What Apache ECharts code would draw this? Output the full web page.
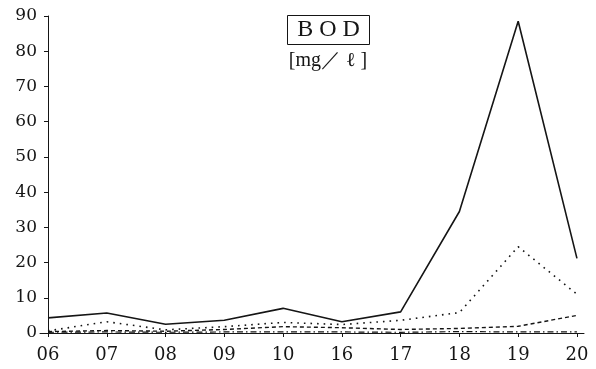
<!DOCTYPE html>
<html>
<head>
<meta charset="utf-8">
<script src="https://cdn.jsdelivr.net/npm/echarts@6/dist/echarts.min.js"></script>
<style>
  html, body { margin: 0; padding: 0; background: #fff; }
  #chart { width: 596px; height: 369px; }
</style>
</head>
<body>
<div id="chart"></div>
<script>
// Sampling days along the x axis
const days = ['06', '07', '08', '09', '10', '16', '17', '18', '19', '20'];
// BOD readings in mg/l, one array per sampling station
const stationA = [4.3, 5.7, 2.5, 3.6, 7.0, 3.2, 6.0, 34.5, 88.5, 21.2];
const stationB = [0.6, 3.2, 0.9, 1.8, 3.0, 2.4, 3.6, 5.8, 24.5, 11.0];
const stationC = [0.4, 0.7, 0.5, 1.0, 1.8, 1.5, 1.0, 1.3, 1.9, 5.0];
const stationD = [0.2, 0.3, 0.2, 0.3, 0.3, 0.3, 0.2, 0.4, 0.3, 0.3];
// Value-axis ticks
const yTicks = [0, 10, 20, 30, 40, 50, 60, 70, 80, 90];

const ink = '#151515';
const serif = '"DejaVu Serif", "Liberation Serif", serif';
const idx = days.map((_, i) => i);
const pts = arr => arr.map((v, i) => [i, v]);

function line(name, data, type, width) {
  return {
    name, type: 'line', data: pts(data),
    symbol: 'none', silent: true,
    lineStyle: { color: ink, width: width, type: type }
  };
}

const chart = echarts.init(document.getElementById('chart'), null, { renderer: 'canvas' });
chart.setOption({
  backgroundColor: '#fff',
  animation: false,
  grid: { left: 40, right: 12, top: 16, bottom: 36 },
  xAxis: {
    type: 'value', min: -0.136, max: 9.12,
    splitLine: { show: false },
    axisLine: { lineStyle: { color: ink, width: 1 } },
    axisTick: { show: true, customValues: idx, length: 4, lineStyle: { color: ink } },
    axisLabel: {
      customValues: idx, margin: 13,
      formatter: v => days[Math.round(v)],
      color: ink, fontFamily: serif, fontSize: 18
    }
  },
  yAxis: {
    type: 'value', min: 0, max: 90, interval: 10,
    splitLine: { show: false },
    axisLine: { show: true, lineStyle: { color: ink, width: 1 } },
    axisTick: { show: true, length: 4, lineStyle: { color: ink } },
    axisLabel: {
      margin: 3, color: ink, fontFamily: serif, fontSize: 17,
      formatter: v => yTicks.includes(v) ? String(v) : ''
    }
  },
  series: [
    line('A', stationA, 'solid', 1.6),
    line('B', stationB, [1.6, 5], 1.6),
    line('C', stationC, [4, 3], 1.4),
    line('D', stationD, [6, 3, 1.5, 3], 1.2)
  ],
  graphic: [
    {
      type: 'rect', silent: true,
      shape: { x: 287.5, y: 15.5, width: 82, height: 29 },
      style: { fill: 'none', stroke: ink, lineWidth: 1 }
    },
    {
      type: 'text', silent: true, x: 328.5, y: 30,
      style: {
        text: 'B O D', align: 'center', verticalAlign: 'middle',
        font: '24px "Liberation Serif", serif', fill: ink
      }
    },
    {
      type: 'text', silent: true, x: 328, y: 61,
      style: {
        text: '[mg／ ℓ ]', align: 'center', verticalAlign: 'middle',
        font: '20px "Liberation Serif", "DejaVu Serif", serif', fill: ink
      }
    }
  ]
});
</script>
</body>
</html>
